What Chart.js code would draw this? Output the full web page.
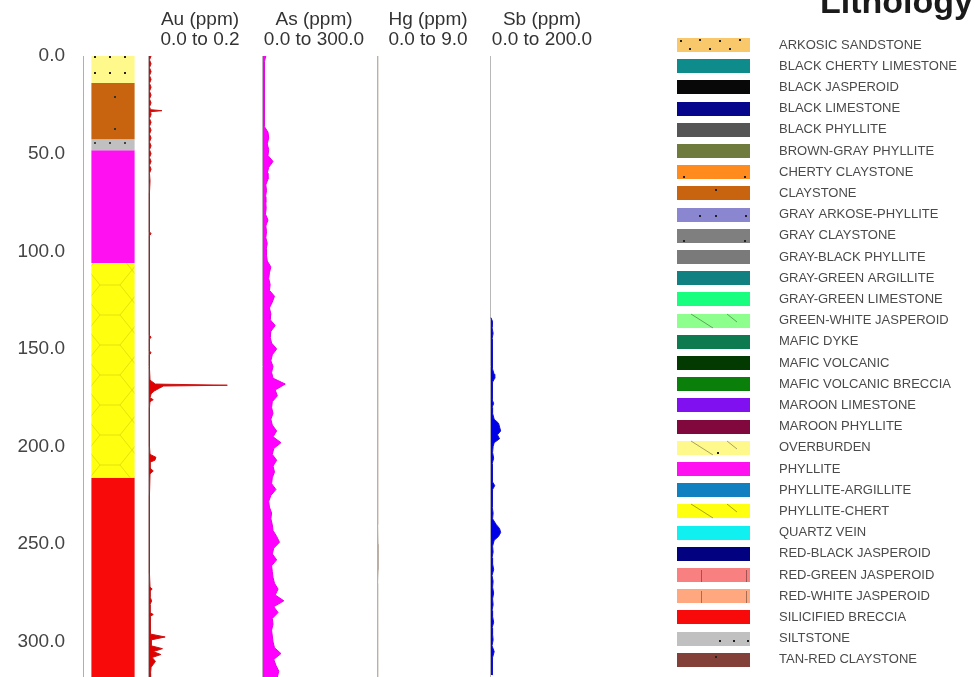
<!DOCTYPE html>
<html>
<head>
<meta charset="utf-8">
<script src="https://cdn.jsdelivr.net/npm/chart.js@4.4.0/dist/chart.umd.min.js"></script>
<style>
  html, body { margin: 0; padding: 0; background: #fff; }
  #log { display: block; }
</style>
</head>
<body>
<canvas id="log" width="975" height="677"></canvas>
<script>
// depth ticks (m)
var depthTicks = [0, 50, 100, 150, 200, 250, 300];

// lithology column intervals
var lithoTop = [0, 13.8, 42.6, 48.2, 106, 216];
var lithoBase = [13.8, 42.6, 48.2, 106, 216, 318];
var lithoUnit = ['OVERBURDEN', 'CLAYSTONE', 'SILTSTONE', 'PHYLLITE', 'PHYLLITE-CHERT', 'SILICIFIED BRECCIA'];

// lithology legend
var legendTitle = 'Lithology';
var legendNames = ['ARKOSIC SANDSTONE', 'BLACK CHERTY LIMESTONE', 'BLACK JASPEROID', 'BLACK LIMESTONE',
  'BLACK PHYLLITE', 'BROWN-GRAY PHYLLITE', 'CHERTY CLAYSTONE', 'CLAYSTONE', 'GRAY ARKOSE-PHYLLITE',
  'GRAY CLAYSTONE', 'GRAY-BLACK PHYLLITE', 'GRAY-GREEN ARGILLITE', 'GRAY-GREEN LIMESTONE',
  'GREEN-WHITE JASPEROID', 'MAFIC DYKE', 'MAFIC VOLCANIC', 'MAFIC VOLCANIC BRECCIA', 'MAROON LIMESTONE',
  'MAROON PHYLLITE', 'OVERBURDEN', 'PHYLLITE', 'PHYLLITE-ARGILLITE', 'PHYLLITE-CHERT', 'QUARTZ VEIN',
  'RED-BLACK JASPEROID', 'RED-GREEN JASPEROID', 'RED-WHITE JASPEROID', 'SILICIFIED BRECCIA', 'SILTSTONE',
  'TAN-RED CLAYSTONE'];
var legendColors = ['#f9c86a', '#0e8c8c', '#080808', '#06068c', '#555555', '#6f7b3c', '#ff8a1e', '#c8640f',
  '#8a86d0', '#7f7f7f', '#7a7a7a', '#118080', '#18ff80', '#8cff8c', '#0e7a50', '#023a02', '#0a800a',
  '#8010f0', '#80083c', '#fff98c', '#ff10f0', '#1080c0', '#ffff10', '#10f0f0', '#020280', '#f88080',
  '#ffa880', '#f80a0a', '#c0c0c0', '#824038'];
var legendMarks = ['dots', '', '', '', '', '', 'corner', 'dot', 'row', 'corner', '', '', '', 'slash', '', '', '',
  '', '', 'slashdot', '', '', 'slash', '', '', 'vline', 'vline', '', 'silt', 'dot'];

// assays: [depth m, value ppm]
var auSamples = [[0, 0.004], [2, 0.001], [4, 0.004], [6, 0.001], [8, 0.004], [10, 0.001], [12, 0.004],
  [14, 0.001], [16, 0.004], [18, 0.001], [20, 0.004], [22, 0.001], [24, 0.004], [26, 0.001], [27.5, 0.003],
  [28, 0.024], [28.5, 0.003], [30, 0.004], [32, 0.001], [34, 0.004], [36, 0.001], [38, 0.004], [40, 0.001],
  [42, 0.004], [44, 0.001], [46, 0.004], [48, 0.001], [50, 0.004], [52, 0.001], [54, 0.004], [56, 0.001],
  [58, 0.004], [60, 0.001], [64, 0.002], [70, 0.001], [80, 0.001], [90, 0.001], [91, 0.004], [92, 0.001],
  [100, 0.001], [115, 0.001], [130, 0.001], [143, 0.001], [144, 0.004], [145, 0.001], [151, 0.001],
  [152, 0.004], [153, 0.001], [160, 0.001], [166, 0.002], [168, 0.012], [168.6, 0.145], [169, 0.027],
  [170, 0.02], [171.5, 0.01], [173, 0.004], [175, 0.002], [176, 0.008], [177, 0.002], [180, 0.001],
  [190, 0.001], [200, 0.001], [204, 0.002], [205.5, 0.013], [207, 0.011], [208, 0.002], [211, 0.002],
  [212.5, 0.008], [214, 0.002], [225, 0.001], [245, 0.001], [265, 0.001], [272, 0.002], [273, 0.006],
  [274, 0.002], [277, 0.002], [279, 0.005], [281, 0.002], [285, 0.002], [286, 0.008], [287, 0.002],
  [292, 0.002], [296, 0.003], [297.5, 0.03], [299, 0.004], [302, 0.004], [303.5, 0.025], [305, 0.008],
  [306.5, 0.022], [308, 0.006], [310, 0.012], [313, 0.004], [316, 0.003], [318, 0.003]];

var asSamples = [[0, 8], [3, 4], [6, 3], [9, 3], [12, 4], [15, 3], [18, 3], [21, 4], [24, 3], [27, 4],
  [30, 3], [33, 4], [36, 5], [39, 14], [42, 16], [45, 12], [48, 16], [51, 14], [54, 28], [57, 16], [60, 12],
  [63, 14], [66, 8], [69, 10], [72, 7], [75, 8], [78, 9], [81, 7], [84, 14], [87, 8], [90, 10], [93, 8],
  [96, 12], [99, 9], [102, 10], [105, 12], [108, 22], [111, 18], [114, 16], [117, 20], [120, 18], [123, 32],
  [126, 26], [129, 18], [132, 22], [135, 20], [138, 34], [141, 22], [144, 20], [147, 24], [150, 38],
  [153, 26], [156, 22], [159, 28], [162, 24], [165, 28], [168, 62], [171, 34], [174, 40], [177, 26],
  [180, 24], [183, 28], [186, 22], [189, 26], [192, 38], [195, 28], [198, 50], [201, 30], [204, 26],
  [207, 38], [210, 28], [213, 32], [216, 26], [219, 24], [222, 36], [225, 22], [228, 16], [231, 18],
  [234, 24], [237, 22], [240, 26], [243, 28], [246, 38], [249, 46], [252, 30], [255, 26], [258, 38],
  [261, 24], [264, 26], [267, 28], [270, 32], [273, 42], [276, 34], [279, 58], [282, 30], [285, 42],
  [288, 26], [291, 28], [294, 24], [297, 26], [300, 28], [303, 32], [306, 50], [309, 30], [312, 36],
  [315, 44], [318, 40]];

var hgSamples = [[0, 0.05], [10, 0.08], [20, 0.05], [40, 0.06], [60, 0.05], [80, 0.07], [100, 0.05],
  [120, 0.06], [140, 0.05], [160, 0.05], [180, 0.06], [200, 0.05], [220, 0.06], [240, 0.05], [250, 0.09],
  [256, 0.11], [263, 0.09], [270, 0.05], [290, 0.06], [318, 0.05]];

var sbSamples = [[134, 0], [136, 3], [139, 2], [142, 4], [145, 2], [148, 3], [151, 2], [154, 3], [157, 2],
  [160, 3], [163, 6], [165, 7], [167, 3], [170, 2], [173, 3], [176, 2], [178, 5], [180, 2], [183, 3],
  [186, 6], [188, 14], [190, 16], [192, 18], [194, 12], [196, 16], [198, 6], [200, 4], [203, 3], [206, 5],
  [209, 2], [212, 3], [215, 2], [218, 3], [220, 7], [222, 3], [225, 2], [228, 3], [231, 2], [234, 4],
  [237, 3], [240, 10], [242, 16], [244, 18], [246, 14], [248, 6], [251, 3], [254, 4], [257, 2], [260, 3],
  [263, 5], [266, 2], [269, 4], [272, 3], [275, 5], [278, 3], [281, 4], [284, 2], [287, 3], [290, 5],
  [293, 2], [296, 3], [299, 4], [302, 2], [305, 6], [308, 3], [311, 2], [314, 3], [317, 2]];

var trackHeaders = {
  au: ['Au (ppm)', '0.0 to 0.2'],
  as: ['As (ppm)', '0.0 to 300.0'],
  hg: ['Hg (ppm)', '0.0 to 9.0'],
  sb: ['Sb (ppm)', '0.0 to 200.0']
};

var FONT = '"Liberation Sans", Arial, sans-serif';
var canvas = document.getElementById('log');
var ctx = canvas.getContext('2d');

function makePattern(bg, w, h, draw) {
  var c = document.createElement('canvas');
  c.width = w;
  c.height = h;
  var g = c.getContext('2d');
  g.fillStyle = bg;
  g.fillRect(0, 0, w, h);
  if (draw) draw(g);
  return ctx.createPattern(c, 'repeat');
}

function columnFill(unit) {
  var color = legendColors[legendNames.indexOf(unit)];
  if (unit === 'OVERBURDEN') {
    return makePattern(color, 15, 16, function (g) { g.fillStyle = '#222'; g.fillRect(4, 8, 2, 2); });
  }
  if (unit === 'CLAYSTONE') {
    return makePattern(color, 42, 32, function (g) { g.fillStyle = '#333'; g.fillRect(30, 0, 2, 2); });
  }
  if (unit === 'SILTSTONE') {
    return makePattern(color, 15, 10, function (g) { g.fillStyle = '#444'; g.fillRect(4, 2, 2, 2); });
  }
  if (unit === 'PHYLLITE-CHERT') {
    return makePattern(color, 44, 60, function (g) {
      g.strokeStyle = 'rgba(170,160,0,0.3)';
      g.lineWidth = 1;
      g.beginPath();
      g.moveTo(0, 0); g.lineTo(12, 15); g.lineTo(32, 15); g.lineTo(44, 0);
      g.moveTo(12, 15); g.lineTo(0, 30); g.lineTo(12, 45); g.lineTo(32, 45); g.lineTo(44, 30); g.lineTo(32, 15);
      g.moveTo(12, 45); g.lineTo(0, 60);
      g.moveTo(32, 45); g.lineTo(44, 60);
      g.stroke();
    });
  }
  return color;
}

function drawMark(c, mark, x, y) {
  c.fillStyle = '#222';
  c.strokeStyle = 'rgba(0,0,0,0.35)';
  c.lineWidth = 1;
  var dot = function (dx, dy) { c.fillRect(x + dx, y + dy, 2, 2); };
  if (mark === 'dots') { [[3, 2], [22, 1], [42, 2], [62, 1], [12, 10], [32, 10], [52, 10]].forEach(function (p) { dot(p[0], p[1]); }); }
  if (mark === 'corner') { dot(6, 11); dot(67, 11); }
  if (mark === 'dot') { dot(38, 3); }
  if (mark === 'row') { dot(22, 7); dot(38, 7); dot(68, 7); }
  if (mark === 'silt') { dot(42, 8); dot(56, 8); dot(70, 8); }
  if (mark === 'slash' || mark === 'slashdot') {
    c.beginPath(); c.moveTo(x + 14, y); c.lineTo(x + 36, y + 14); c.moveTo(x + 50, y); c.lineTo(x + 60, y + 8); c.stroke();
    if (mark === 'slashdot') dot(40, 11);
  }
  if (mark === 'vline') {
    c.beginPath(); c.moveTo(x + 24.5, y + 2); c.lineTo(x + 24.5, y + 14); c.moveTo(x + 69.5, y + 2); c.lineTo(x + 69.5, y + 14); c.stroke();
  }
}

var lithoLegend = {
  id: 'lithoLegend',
  afterDraw: function (chart) {
    var c = chart.ctx;
    c.save();
    c.fillStyle = '#1a1a1a';
    c.font = 'bold 34px ' + FONT;
    c.textBaseline = 'alphabetic';
    c.fillText(legendTitle, 820, 13);
    c.font = '13px ' + FONT;
    c.textBaseline = 'middle';
    legendNames.forEach(function (name, i) {
      var y = 45 + i * 21.2;
      c.fillStyle = legendColors[i];
      c.fillRect(677, Math.round(y - 7), 73, 14);
      drawMark(c, legendMarks[i], 677, Math.round(y - 7));
      c.fillStyle = '#4a4a4a';
      c.fillText(name, 779, y);
    });
    c.restore();
  }
};

// weight orders the tracks left to right inside the top stack
function trackAxis(header, min, max, order) {
  return {
    type: 'linear', axis: 'x', position: 'top', stack: 'tracks', stackWeight: 114, weight: order,
    min: min, max: max, offset: false,
    afterFit: function (s) { s.height = 56; },
    afterBuildTicks: function (s) { s.ticks = [{ value: 0 }]; },
    ticks: { display: false },
    border: { display: false },
    grid: { drawTicks: false, offset: false, color: '#b9b9b9', lineWidth: 1 },
    title: {
      display: true, text: header, color: '#333',
      font: { family: FONT, size: 19, lineHeight: 1.05 },
      padding: { top: 10, bottom: 0 }
    }
  };
}

function toPoints(samples) {
  return samples.map(function (p) { return { x: p[1], y: p[0] }; });
}

function trace(label, axisId, samples, line, fill) {
  return {
    type: 'line', label: label, indexAxis: 'y', xAxisID: axisId, yAxisID: 'depth',
    data: toPoints(samples), borderColor: line, backgroundColor: fill, borderWidth: 1,
    pointRadius: 0, tension: 0, fill: 'origin', order: 1
  };
}

var datasets = lithoTop.map(function (top, i) {
  return {
    type: 'bar', label: lithoUnit[i], data: [[top, lithoBase[i]]], xAxisID: 'litho', yAxisID: 'depth',
    backgroundColor: columnFill(lithoUnit[i]), borderWidth: 0, grouped: false,
    barPercentage: 0.72, categoryPercentage: 1, order: 5
  };
});
datasets.push(trace('Au (ppm)', 'au', auSamples, '#cc1010', '#e00000'));
datasets.push(trace('As (ppm)', 'as', asSamples, '#e600e6', '#ff00ff'));
datasets.push(trace('Hg (ppm)', 'hg', hgSamples, '#bcb0a4', '#e8a060'));
datasets.push(trace('Sb (ppm)', 'sb', sbSamples, '#1010d0', '#0000e6'));

var chart = new Chart(ctx, {
  type: 'bar',
  data: { labels: ['Lithology'], datasets: datasets },
  options: {
    responsive: false,
    animation: false,
    layout: { padding: { left: 0, right: 376, top: 0, bottom: 0 } },
    plugins: { legend: { display: false }, tooltip: { enabled: false } },
    scales: {
      depth: {
        type: 'linear', axis: 'y', position: 'left', reverse: true, min: 0, max: 318,
        afterFit: function (s) { s.width = 83; s.paddingTop = 0; s.paddingBottom = 0; },
        afterBuildTicks: function (s) { s.ticks = depthTicks.map(function (v) { return { value: v }; }); },
        ticks: {
          padding: 18, color: '#444', font: { family: FONT, size: 19 },
          callback: function (v) { return Number(v).toFixed(1); }
        },
        grid: { display: false, drawTicks: false },
        border: { display: true, color: '#a8aec8', width: 1 }
      },
      litho: {
        type: 'category', axis: 'x', position: 'top', stack: 'tracks', stackWeight: 60, weight: 5, offset: true,
        afterFit: function (s) { s.height = 56; },
        ticks: { display: false },
        grid: { display: false, drawTicks: false },
        border: { display: false }
      },
      au: trackAxis(trackHeaders.au, -0.011, 0.2, 4),
      as: trackAxis(trackHeaders.as, -16.5, 300, 3),
      hg: trackAxis(trackHeaders.hg, -0.5, 9, 2),
      sb: trackAxis(trackHeaders.sb, -11, 200, 1)
    }
  },
  plugins: [lithoLegend]
});
</script>
</body>
</html>
